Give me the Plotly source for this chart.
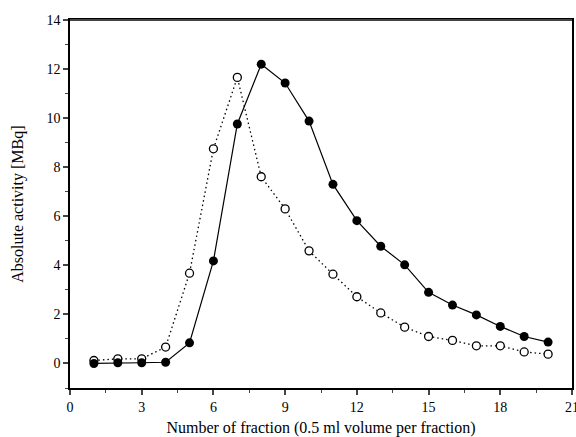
import plotly.graph_objects as go

fractions = list(range(1, 21))
filled_vals = [0.0, 0.03, 0.03, 0.05, 0.84, 4.18, 9.76, 12.2, 11.43, 9.88, 7.3, 5.82,
               4.78, 4.02, 2.9, 2.38, 1.98, 1.51, 1.1, 0.87]
open_vals = [0.12, 0.19, 0.19, 0.67, 3.68, 8.75, 11.66, 7.61, 6.3, 4.59, 3.64, 2.72,
             2.06, 1.48, 1.1, 0.94, 0.72, 0.72, 0.47, 0.38]
x_ticks = [0, 3, 6, 9, 12, 15, 18, 21]
y_ticks = [0, 2, 4, 6, 8, 10, 12, 14]

fig = go.Figure()
fig.add_trace(go.Scatter(
    x=fractions, y=open_vals, mode="lines+markers",
    line=dict(color="black", width=1.3, dash="1.5px,3px"),
    marker=dict(symbol="circle", size=8, color="white", line=dict(width=1.3, color="black")),
    showlegend=False, cliponaxis=False))
fig.add_trace(go.Scatter(
    x=fractions, y=filled_vals, mode="lines+markers",
    line=dict(color="black", width=1.2),
    marker=dict(symbol="circle", size=9, color="black"),
    showlegend=False, cliponaxis=False))

font = "Liberation Serif, Times New Roman, serif"
fig.update_layout(
    width=576, height=437,
    margin=dict(l=70, r=4, t=20, b=49),
    paper_bgcolor="white", plot_bgcolor="white",
    font=dict(family=font, size=14, color="black"),
    xaxis=dict(range=[0, 21], tickvals=x_ticks, ticks="outside", ticklen=5, tickwidth=1.5,
               showline=True, linewidth=1.5, linecolor="black", mirror=True,
               showgrid=False, zeroline=False, automargin=False,
               tickfont=dict(size=14), ticklabeloverflow="allow",
               minor=dict(dtick=1.5, tick0=0, ticks="outside", ticklen=3, tickwidth=1.2, showgrid=False),
               title=dict(text="Number of fraction (0.5 ml volume per fraction)", font=dict(size=16), standoff=12)),
    yaxis=dict(range=[-1, 14], tickvals=y_ticks, ticks="outside", ticklen=5, tickwidth=1.5,
               showline=True, linewidth=1.5, linecolor="black", mirror=True,
               showgrid=False, zeroline=False, automargin=False,
               tickfont=dict(size=14), ticklabeloverflow="allow",
               minor=dict(dtick=1, tick0=0, ticks="outside", ticklen=3, tickwidth=1.2, showgrid=False)),
    annotations=[dict(text="Absolute activity [MBq]", xref="paper", yref="paper",
                      x=-0.104, y=0.5, xanchor="center", yanchor="middle",
                      textangle=-90, showarrow=False, font=dict(size=16))],
)
fig.add_shape(type="line", xref="paper", yref="paper", x0=0, x1=1, y0=1, y1=1,
              line=dict(color="#444444", width=2))

fig.write_html("out.html", config={"displayModeBar": False},
               post_script="document.body.style.margin='0';document.body.style.overflow='hidden';")
